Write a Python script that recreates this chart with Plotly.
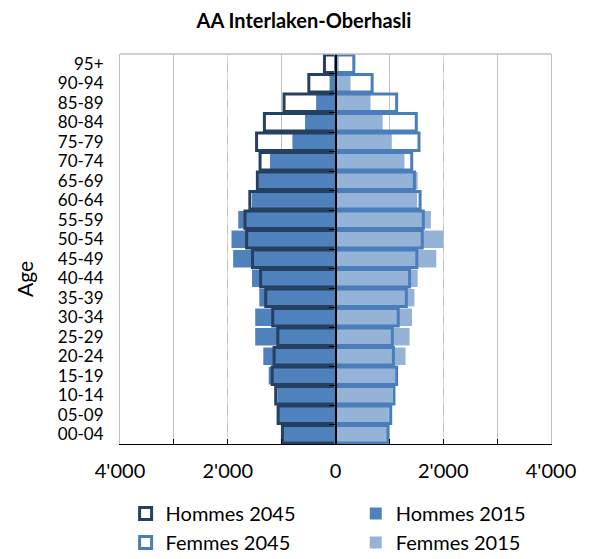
import plotly.graph_objects as go

ages = ["00-04", "05-09", "10-14", "15-19", "20-24", "25-29", "30-34", "35-39",
        "40-44", "45-49", "50-54", "55-59", "60-64", "65-69", "70-74", "75-79",
        "80-84", "85-89", "90-94", "95+"]

hommes_2015 = [970, 1050, 1080, 1240, 1340, 1490, 1490, 1415, 1550, 1900,
               1930, 1805, 1550, 1420, 1215, 800, 565, 360, 110, 25]
hommes_2045 = [985, 1065, 1110, 1175, 1140, 1070, 1165, 1295, 1390, 1540,
               1650, 1680, 1590, 1450, 1400, 1465, 1320, 955, 495, 205]
femmes_2015 = [945, 990, 1050, 1110, 1300, 1375, 1420, 1465, 1525, 1870,
               2005, 1770, 1515, 1525, 1280, 1045, 875, 650, 280, 60]
femmes_2045 = [970, 1025, 1085, 1135, 1075, 1055, 1165, 1315, 1375, 1510,
               1610, 1630, 1570, 1465, 1415, 1550, 1500, 1135, 680, 340]

tick_vals = [-4000, -2000, 0, 2000, 4000]
tick_text = ["4'000", "2'000", "0", "2'000", "4'000"]

FONT = "Lato, 'Liberation Sans', sans-serif"

fig = go.Figure()

fig.add_trace(go.Bar(
    y=ages, x=[-v for v in hommes_2015], orientation="h", name="Hommes 2015",
    marker=dict(color="#4F81BD", line=dict(width=0)), legend="legend2",
    legendgroup="h15", legendrank=1))
fig.add_trace(go.Bar(
    y=ages, x=femmes_2015, orientation="h", name="Femmes 2015",
    marker=dict(color="#95B3D7", line=dict(width=0)), legend="legend2",
    legendgroup="f15", legendrank=2))
fig.add_trace(go.Bar(
    y=ages, x=[-v for v in hommes_2045], orientation="h", name="Hommes 2045",
    marker=dict(color="rgba(0,0,0,0)", line=dict(color="#254061", width=3)),
    legend="legend", legendgroup="h45", legendrank=1))
fig.add_trace(go.Bar(
    y=ages, x=femmes_2045, orientation="h", name="Femmes 2045",
    marker=dict(color="rgba(0,0,0,0)", line=dict(color="#4A7EBB", width=3)),
    legend="legend", legendgroup="f45", legendrank=2))

n = len(ages)
fig.add_trace(go.Scatter(x=[0], y=[0], yaxis="y2", mode="markers",
                         marker=dict(opacity=0), showlegend=False, hoverinfo="skip"))

leg_common = dict(font=dict(size=20), itemwidth=30, tracegroupgap=0,
                  traceorder="grouped", bgcolor="rgba(0,0,0,0)", yanchor="top")

fig.update_layout(
    width=582, height=551,
    margin=dict(l=112, r=39, t=46, b=115, autoexpand=False),
    paper_bgcolor="white", plot_bgcolor="white",
    barmode="overlay", bargap=0.1,
    font=dict(family=FONT, size=20, color="black"),
    title=dict(text="<b>AA Interlaken-Oberhasli</b>", x=0.5086, xanchor="center",
               y=0.976, yanchor="middle", font=dict(size=20, family=FONT)),
    xaxis=dict(
        range=[-4000, 4000], tickvals=tick_vals, ticktext=tick_text,
        showgrid=True, gridcolor="#d9d9d9", griddash="dash", gridwidth=1,
        minor=dict(dtick=1000, showgrid=True, gridcolor="#c0c0c0", gridwidth=1,
                   griddash="solid", ticks="inside", ticklen=5, tickcolor="black"),
        ticks="inside", ticklen=5, tickcolor="black",
        showline=True, linecolor="black", linewidth=1.2,
        zeroline=False, ticklabelstandoff=9, automargin=False,
    ),
    yaxis=dict(
        type="category", categoryorder="array", categoryarray=ages,
        tickmode="array", tickvals=ages, tickfont=dict(size=17),
        showgrid=False, ticks="", showline=True, linecolor="#bfbfbf", linewidth=1,
        mirror=True, ticklabelstandoff=12, range=[-0.5, n - 0.5], automargin=False,
    ),
    yaxis2=dict(
        overlaying="y", anchor="free", position=0.5, side="left",
        range=[-0.5, n - 0.5], tickvals=[i + 0.5 for i in range(n - 1)],
        showticklabels=False, ticks="outside", ticklen=6, tickcolor="black",
        showline=True, linecolor="black", linewidth=1.5, showgrid=False,
        zeroline=False,
    ),
    legend=dict(x=0.013, xanchor="left", y=-0.128, **leg_common),
    legend2=dict(x=0.547, xanchor="left", y=-0.128, **leg_common),
    showlegend=True,
)

fig.add_annotation(text="Age", xref="paper", yref="paper", x=-0.2227, y=0.423,
                   textangle=-90, showarrow=False, font=dict(size=21),
                   xanchor="center", yanchor="middle")

fig.add_shape(type="line", xref="paper", yref="paper", x0=0, x1=1, y0=1, y1=1,
              line=dict(color="#bfbfbf", width=1.5))

fig.write_html("out.html")
